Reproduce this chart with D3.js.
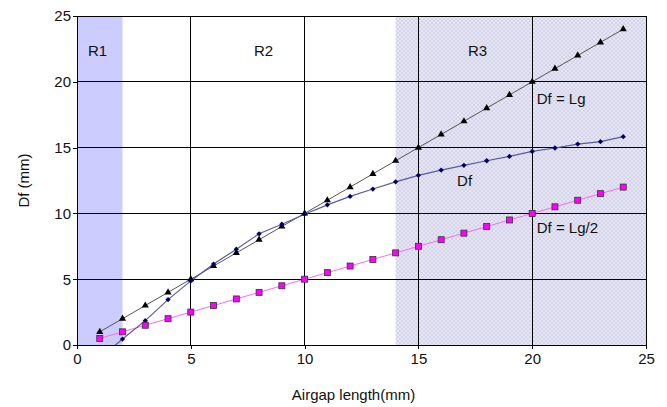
<!DOCTYPE html>
<html>
<head>
<meta charset="utf-8">
<script src="https://cdn.jsdelivr.net/npm/d3@7"></script>
<style>
  body { margin: 0; background: #fff; }
  text { font-family: "Liberation Sans", Arial, sans-serif; }
</style>
</head>
<body>
<div id="chart"></div>
<script>
// airgap length (mm)
const lg = [1, 2, 3, 4, 5, 6, 7, 8, 9, 10, 11, 12, 13, 14, 15, 16, 17, 18, 19, 20, 21, 22, 23, 24];
// measured Df (first point is below the axis, clipped)
const df = [-1.0, 0.45, 1.85, 3.45, 4.87, 6.15, 7.28, 8.45, 9.18, 9.94, 10.65, 11.29, 11.85, 12.4,
    12.89, 13.29, 13.65, 14.0, 14.33, 14.71, 14.97, 15.27, 15.45, 15.83];
const dfEqLg = [1, 2, 3, 4, 5, 6, 7, 8, 9, 10, 11, 12, 13, 14, 15, 16, 17, 18, 19, 20, 21, 22, 23, 24];
const dfHalfLg = [0.5, 1, 1.5, 2, 2.5, 3, 3.5, 4, 4.5, 5, 5.5, 6, 6.5, 7, 7.5, 8, 8.5, 9, 9.5, 10, 10.5, 11, 11.5, 12];
const ticks = [0, 5, 10, 15, 20, 25];
// regions [from, to, name, label position]
const regions = [[0, 2, 'R1', 0.9], [2, 14, 'R2', 8.2], [14, 25, 'R3', 17.6]];

const W = 667, H = 407;
const margin = { top: 16, right: 21, bottom: 62, left: 77 };
const width = W - margin.left - margin.right;
const height = H - margin.top - margin.bottom;

const svg = d3.select('#chart').append('svg')
    .attr('width', W)
    .attr('height', H);

const defs = svg.append('defs');
const pat = defs.append('pattern')
    .attr('id', 'hatch')
    .attr('width', 4).attr('height', 4)
    .attr('patternUnits', 'userSpaceOnUse');
pat.append('rect').attr('width', 4).attr('height', 4).attr('fill', '#e8e8f5');
pat.append('rect').attr('width', 2).attr('height', 2).attr('fill', '#d2d2ea');
pat.append('rect').attr('x', 2).attr('y', 2).attr('width', 2).attr('height', 2).attr('fill', '#d2d2ea');

defs.append('clipPath').attr('id', 'plotclip')
    .append('rect').attr('width', width).attr('height', height);

const g = svg.append('g').attr('transform', `translate(${margin.left},${margin.top})`);

const x = d3.scaleLinear().domain([0, 25]).range([0, width]);
const y = d3.scaleLinear().domain([0, 25]).range([height, 0]);

// region backgrounds
g.append('rect')
    .attr('x', x(regions[0][0])).attr('y', 0)
    .attr('width', x(regions[0][1]) - x(regions[0][0])).attr('height', height)
    .attr('fill', '#ccccff');
g.append('rect')
    .attr('x', x(regions[2][0])).attr('y', 0)
    .attr('width', x(regions[2][1]) - x(regions[2][0])).attr('height', height)
    .attr('fill', 'url(#hatch)');

// grid
g.selectAll('.gx').data(ticks.slice(1)).enter().append('line')
    .attr('x1', d => x(d)).attr('x2', d => x(d))
    .attr('y1', 0).attr('y2', height)
    .attr('stroke', '#000').attr('stroke-width', 1).attr('shape-rendering', 'crispEdges');
g.selectAll('.gy').data(ticks.slice(1)).enter().append('line')
    .attr('x1', 0).attr('x2', width)
    .attr('y1', d => y(d)).attr('y2', d => y(d))
    .attr('stroke', '#000').attr('stroke-width', 1).attr('shape-rendering', 'crispEdges');

// axes
const xAxis = g.append('g').attr('transform', `translate(0,${height})`)
    .call(d3.axisBottom(x).tickValues(ticks).tickSize(4).tickPadding(4));
const yAxis = g.append('g')
    .call(d3.axisLeft(y).tickValues(ticks).tickSize(4).tickPadding(2));
[xAxis, yAxis].forEach(a => {
    a.select('.domain').attr('stroke', '#000').attr('shape-rendering', 'crispEdges');
    a.selectAll('.tick line').attr('stroke', '#000').attr('shape-rendering', 'crispEdges');
    a.selectAll('text').attr('font-size', 15).attr('fill', '#111')
        .style('font-family', '"Liberation Sans", Arial, sans-serif');
});

// series
const plot = g.append('g').attr('clip-path', 'url(#plotclip)');
const line = d3.line().x(d => x(d[0])).y(d => y(d[1]));

plot.append('path').datum(d3.zip(lg, dfHalfLg)).attr('d', line)
    .attr('fill', 'none').attr('stroke', '#ff66ff').attr('stroke-width', 1);
plot.append('path').datum(d3.zip(lg, dfEqLg)).attr('d', line)
    .attr('fill', 'none').attr('stroke', '#555').attr('stroke-width', 1);
plot.append('path').datum(d3.zip(lg, df)).attr('d', line)
    .attr('fill', 'none').attr('stroke', '#5a5aa0').attr('stroke-width', 1.2);

const tri = d3.symbol().type(d3.symbolTriangle).size(22);
const dia = d3.symbol().type(d3.symbolSquare).size(14);

plot.selectAll('.tri').data(d3.zip(lg, dfEqLg)).enter().append('path')
    .attr('d', tri)
    .attr('transform', d => `translate(${x(d[0])},${y(d[1])})`)
    .attr('fill', '#000');
plot.selectAll('.dia').data(d3.zip(lg, df).filter(d => d[1] >= 0)).enter().append('path')
    .attr('d', dia)
    .attr('transform', d => `translate(${x(d[0])},${y(d[1])}) rotate(45)`)
    .attr('fill', '#000066');
plot.selectAll('.sq').data(d3.zip(lg, dfHalfLg)).enter().append('rect')
    .attr('x', d => x(d[0]) - 3).attr('y', d => y(d[1]) - 3)
    .attr('width', 6).attr('height', 6)
    .attr('fill', '#ff00ff').attr('stroke', '#333').attr('stroke-width', 0.8);

// region names
g.selectAll('.rname').data(regions).enter().append('text')
    .attr('x', d => x(d[3]))
    .attr('y', 40)
    .attr('text-anchor', 'middle')
    .attr('font-size', 15).attr('fill', '#111')
    .text(d => d[2]);

// series labels
const labels = [['Df = Lg', 20.2, 18.3], ['Df', 16.7, 12.1], ['Df = Lg/2', 20.2, 8.5]];
g.selectAll('.slab').data(labels).enter().append('text')
    .attr('x', d => x(d[1])).attr('y', d => y(d[2]))
    .attr('font-size', 15).attr('fill', '#111')
    .text(d => d[0]);

// axis titles
svg.append('text')
    .attr('x', margin.left + width / 2 - 8).attr('y', 400)
    .attr('text-anchor', 'middle').attr('font-size', 15).attr('fill', '#111')
    .text('Airgap length(mm)');
svg.append('text')
    .attr('transform', `translate(29,${margin.top + height / 2}) rotate(-90)`)
    .attr('text-anchor', 'middle').attr('font-size', 15).attr('fill', '#111')
    .text('Df (mm)');
</script>
</body>
</html>
